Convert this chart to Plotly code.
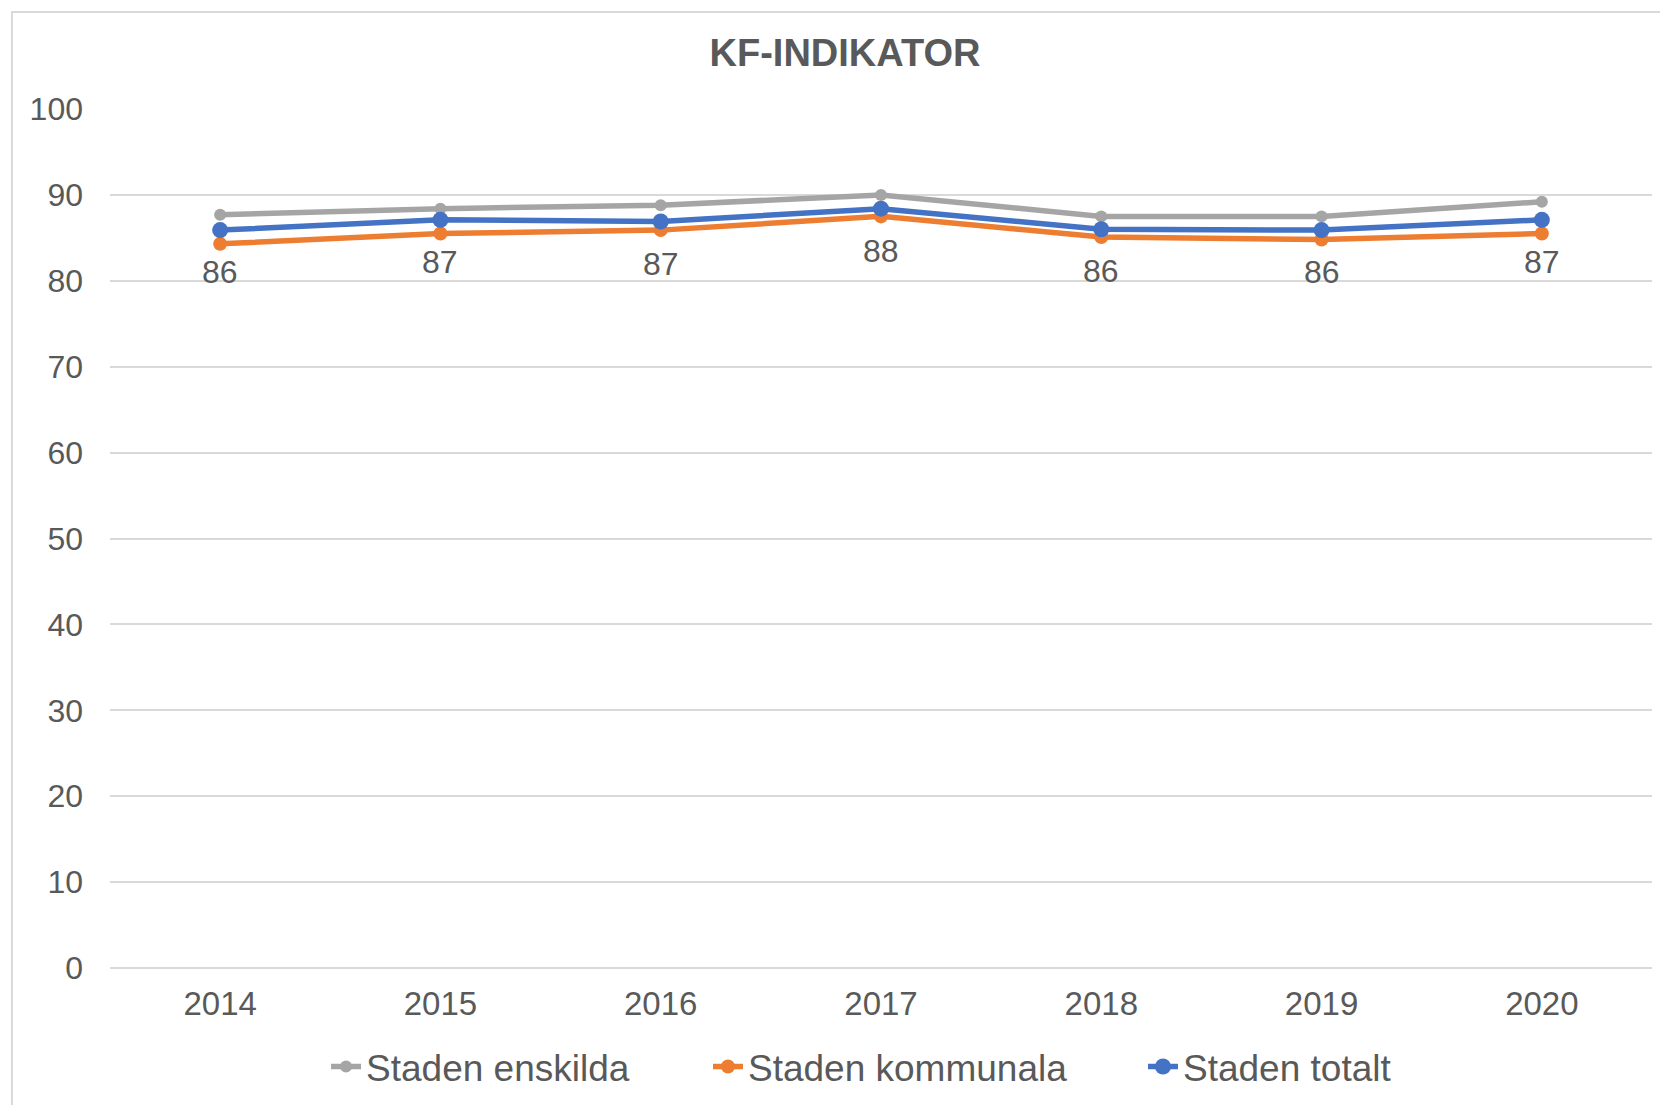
import plotly.graph_objects as go

# KF-indikator per år
years = [2014, 2015, 2016, 2017, 2018, 2019, 2020]
staden_enskilda = [87.7, 88.4, 88.8, 90.0, 87.5, 87.5, 89.2]
staden_kommunala = [84.3, 85.5, 85.9, 87.5, 85.1, 84.8, 85.5]
staden_totalt = [85.9, 87.1, 86.9, 88.4, 86.0, 85.9, 87.1]
y_ticks = [0, 10, 20, 30, 40, 50, 60, 70, 80, 90, 100]

text_color = '#595959'
font_family = 'Liberation Sans, Arial, sans-serif'

fig = go.Figure()
fig.add_trace(go.Scatter(
    x=years, y=staden_enskilda, name='Staden enskilda', mode='lines+markers',
    line=dict(color='#A5A5A5', width=5.5), marker=dict(size=12, color='#A5A5A5'),
    legend='legend',
))
fig.add_trace(go.Scatter(
    x=years, y=staden_kommunala, name='Staden kommunala', mode='lines+markers',
    line=dict(color='#ED7D31', width=5.5), marker=dict(size=14, color='#ED7D31'),
    legend='legend2',
))
fig.add_trace(go.Scatter(
    x=years, y=staden_totalt, name='Staden totalt', mode='lines+markers',
    line=dict(color='#4472C4', width=5.5), marker=dict(size=16, color='#4472C4'),
    legend='legend3',
))

# datalabels for totalt, placed below the lines
for yr, v in zip(years, staden_totalt):
    fig.add_annotation(
        x=yr, y=v, text=str(round(v)), showarrow=False, yshift=-42,
        font=dict(size=32, color=text_color, family=font_family),
    )

# outer chart border
fig.add_shape(
    type='rect', xref='paper', yref='paper',
    x0=-0.0636, x1=1.03, y0=-0.2, y1=1.1129,
    line=dict(color='#D9D9D9', width=2), fillcolor='rgba(0,0,0,0)', layer='below',
)

legend_style = dict(
    orientation='h', xanchor='left', y=-0.1152, yanchor='middle',
    font=dict(size=37, color=text_color, family=font_family),
    bgcolor='rgba(0,0,0,0)',
)

fig.update_layout(
    width=1668,
    height=1105,
    margin=dict(l=102, r=24, t=101, b=145),
    paper_bgcolor='white',
    plot_bgcolor='white',
    font=dict(family=font_family, color=text_color, size=32),
    title=dict(
        text='<b>KF-INDIKATOR</b>', x=0.5018, xanchor='center',
        y=1 - 44.5 / 1105, yanchor='middle',
        font=dict(size=38, color=text_color, family=font_family),
    ),
    xaxis=dict(
        range=[2013.5, 2020.5], tickvals=years, ticktext=[str(y) for y in years],
        showgrid=False, zeroline=False, showline=False, ticks='',
        ticklabelstandoff=13, tickfont=dict(size=33, color=text_color),
    ),
    yaxis=dict(
        range=[0, 100], tickvals=y_ticks, showgrid=True, gridcolor='#D9D9D9',
        gridwidth=2, zeroline=True, zerolinecolor='#D9D9D9', zerolinewidth=2,
        showline=False, ticks='',
        ticklabelstandoff=26, tickfont=dict(size=32, color=text_color),
    ),
    legend=dict(x=0.1401, **legend_style),
    legend2=dict(x=0.3878, **legend_style),
    legend3=dict(x=0.6699, **legend_style),
    showlegend=True,
)

fig.write_html("out.html")
